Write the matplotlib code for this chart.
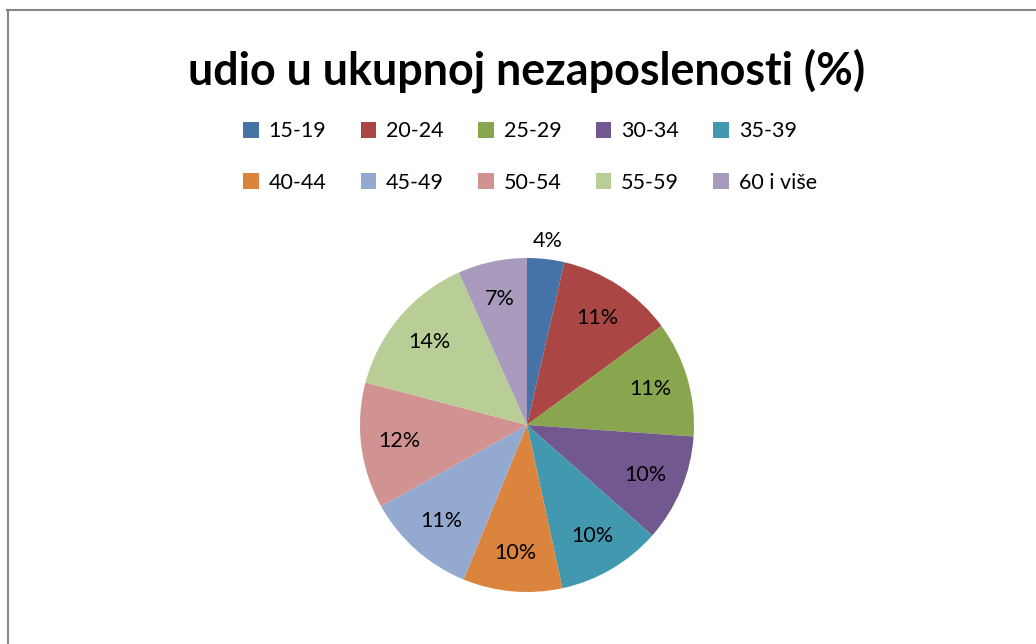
import matplotlib
matplotlib.use("Agg")
import matplotlib.pyplot as plt
from matplotlib.patches import Patch
from matplotlib.lines import Line2D
import numpy as np

categories = ["15-19", "20-24", "25-29", "30-34", "35-39",
              "40-44", "45-49", "50-54", "55-59", "60 i više"]
values = [3.6, 11.3, 11.2, 10.4, 10.1, 9.6, 10.7, 12.2, 14.2, 6.7]
labels = ["4%", "11%", "11%", "10%", "10%", "10%", "11%", "12%", "14%", "7%"]
colors = ["#4572A7", "#AA4643", "#89A54E", "#71588F", "#4198AF",
          "#DB843D", "#93A9CF", "#D19392", "#B9CD96", "#A99BBD"]
title = "udio u ukupnoj nezaposlenosti (%)"

W, H = 1036, 644
fig = plt.figure(figsize=(W / 100, H / 100), dpi=100)
fig.patch.set_facecolor("white")

# chart frame (only top and left edges visible)
fig.add_artist(Line2D([7 / W, 1], [1 - 9.5 / H, 1 - 9.5 / H], color="#868686", lw=1.5))
fig.add_artist(Line2D([7.5 / W, 7.5 / W], [0, 1 - 9.5 / H], color="#868686", lw=1.5))

cx, cy, r = 527, 425, 167
ax = fig.add_axes([(cx - r) / W, (H - cy - r) / H, 2 * r / W, 2 * r / H])
wedges, texts = ax.pie(values, colors=colors, startangle=90, counterclock=False,
                       labels=labels, labeldistance=0.77,
                       wedgeprops=dict(linewidth=0),
                       textprops=dict(fontsize=15.5, family="Lato", color="black",
                                      ha="center", va="center"))
# small first slice label is placed outside
ang = np.deg2rad(90 - 360 * values[0] / sum(values) / 2)
texts[0].set_position((1.11 * np.cos(ang), 1.11 * np.sin(ang)))
ax.set_xlim(-1, 1)
ax.set_ylim(-1, 1)
ax.set_aspect("equal")
ax.axis("off")

fig.text(cx / W, 1 - 71 / H, title, ha="center", va="center",
         fontsize=32.3, fontweight="bold", family="Lato")

handles = [Patch(facecolor=c, edgecolor="none") for c in colors]
ncol = 5
order = [i * ncol + j for j in range(ncol) for i in range(2)]
leg = fig.legend([handles[k] for k in order], [categories[k] for k in order],
                 ncol=ncol, loc="center",
                 bbox_to_anchor=(530 / W, 1 - 157 / H), frameon=False,
                 prop=dict(family="Lato", size=15.5),
                 handlelength=0.72, handleheight=0.72, handletextpad=0.45,
                 columnspacing=1.6, labelspacing=1.45)

fig.savefig("out.png", dpi=100, facecolor="white")
